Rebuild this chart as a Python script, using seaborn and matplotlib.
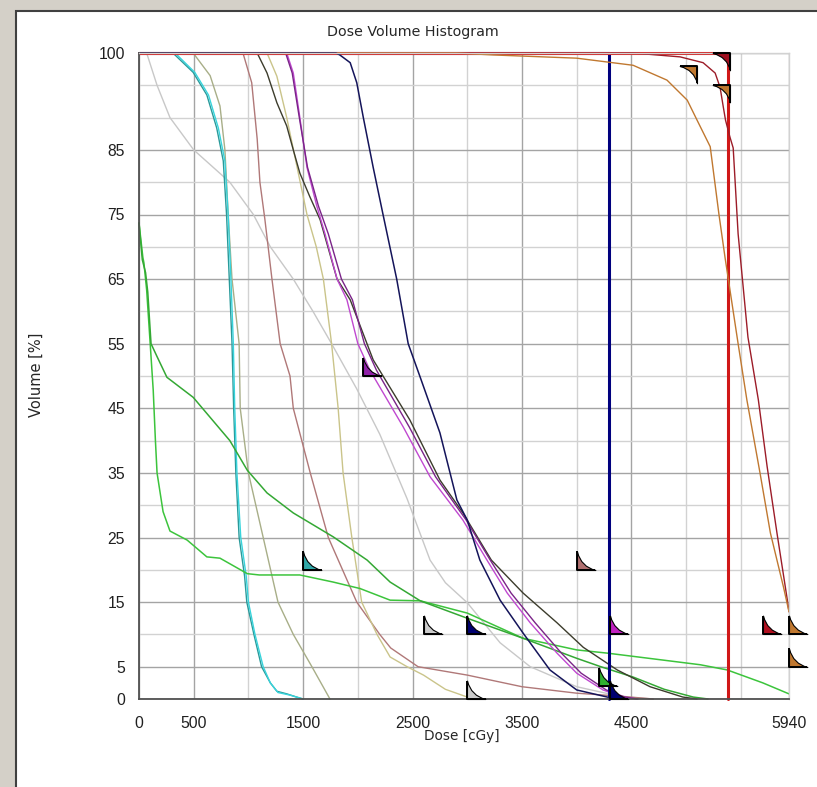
import matplotlib
matplotlib.use("Agg")
import matplotlib.pyplot as plt
from matplotlib.path import Path
from matplotlib.markers import MarkerStyle
from matplotlib.patches import Rectangle
import seaborn as sns

# dose in cGy, volume in %

teal_dose = [0, 310, 495, 620, 710, 770, 800, 825, 850, 865, 885, 915, 965, 985, 1050, 1120, 1200, 1260, 1350, 1440, 1500]
teal_vol = [100, 100, 97, 93.5, 88.4, 83.3, 75, 65, 55, 45, 35, 25, 19, 15, 10, 5, 2.5, 1.2, 0.8, 0.3, 0]

cyan_dose = [0, 330, 510, 635, 725, 785, 815, 840, 862, 875, 895, 930, 980, 1000, 1060, 1135, 1200, 1270, 1380, 1440, 1500]
cyan_vol = [100, 100, 97, 93.5, 88.4, 83.3, 75, 65, 55, 45, 35, 25, 19, 15, 10, 5, 2.5, 1, 0.6, 0.3, 0]

olive_gray_dose = [0, 495, 650, 740, 785, 815, 850, 915, 925, 1000, 1135, 1270, 1410, 1580, 1745]
olive_gray_vol = [100, 100, 96.5, 91.8, 85, 75, 65, 55, 45, 35, 25, 15, 10, 5, 0]

gray_dose = [0, 70, 165, 283, 500, 830, 1045, 1200, 1410, 1590, 1760, 1990, 2200, 2450, 2660, 2800, 3000, 3300, 3575, 4000, 4425, 4700]
gray_vol = [100, 100, 95, 90, 85, 80, 75, 70, 65, 60, 55, 48, 41, 31, 21.5, 18, 14.9, 8.7, 5, 1.9, 0.3, 0]

rosy_dose = [0, 950, 1030, 1080, 1105, 1150, 1215, 1290, 1380, 1410, 1565, 1730, 1860, 1990, 2200, 2300, 2550, 3000, 3500, 4000, 4425, 4700]
rosy_vol = [100, 100, 95.4, 86.7, 80, 74.3, 65, 55, 50, 45, 35, 25, 20, 15, 10, 7.9, 5, 3.7, 1.9, 0.9, 0.4, 0]

khaki_dose = [0, 1170, 1260, 1350, 1445, 1535, 1620, 1685, 1760, 1820, 1865, 1945, 2035, 2175, 2295, 2450, 2600, 2800, 3000, 3100]
khaki_vol = [100, 100, 96.4, 90, 82.3, 75, 70, 65, 55, 45, 35, 25, 15, 10, 6.5, 5, 3.7, 1.5, 0.3, 0]

dark_dose = [0, 1080, 1170, 1260, 1350, 1410, 1470, 1560, 1655, 1810, 1930, 2140, 2475, 2750, 2960, 3220, 3510, 3820, 4060, 4370, 4670, 4970, 5100]
dark_vol = [100, 100, 96.9, 92.3, 88.7, 85, 81.4, 77.8, 74.2, 65, 61.8, 52.5, 43.2, 33.9, 28.8, 21.5, 16.4, 11.8, 8, 4.5, 1.9, 0.3, 0]

magenta_dose = [0, 1350, 1410, 1470, 1535, 1625, 1700, 1810, 1900, 2000, 2110, 2415, 2660, 2960, 3180, 3365, 3575, 3820, 4000, 4240, 4425, 4550]
magenta_vol = [100, 100, 96.9, 90, 82.3, 76.3, 72, 65, 61.8, 55, 50.9, 42.1, 34.4, 27.7, 21.5, 16.4, 11.8, 7.1, 4, 1.4, 0.3, 0]

purple_dose = [0, 1340, 1400, 1465, 1540, 1640, 1730, 1850, 1950, 2060, 2170, 2470, 2710, 2990, 3210, 3400, 3620, 3860, 4040, 4270, 4440, 4560]
purple_vol = [100, 100, 96.9, 90, 82.3, 76.3, 72, 65, 61.8, 55, 50.9, 42.1, 34.4, 27.7, 21.5, 16.4, 11.8, 7.1, 4, 1.4, 0.3, 0]

navy_dose = [0, 1800, 1835, 1930, 1990, 2050, 2140, 2230, 2355, 2460, 2570, 2750, 2905, 3000, 3115, 3300, 3510, 3755, 4000, 4280, 4400]
navy_vol = [100, 100, 99.7, 98.5, 95.4, 90, 82.3, 75, 65, 55, 49.8, 41.2, 30.8, 27.7, 21.5, 15.3, 10.2, 4.5, 1.4, 0.3, 0]

step_navy_dose = [0, 4296, 4296]
step_navy_vol = [100, 100, 0]

step_red_dose = [0, 5384, 5384]
step_red_vol = [100, 100, 0]

maroon_dose = [0, 4515, 4945, 5155, 5265, 5310, 5340, 5360, 5400, 5430, 5475, 5565, 5660, 5740, 5830, 5925, 5940]
maroon_vol = [100, 100, 99.4, 98.5, 96.9, 94.7, 91.6, 89.6, 87, 85.3, 72, 56, 46.3, 36, 25.7, 15.3, 13.5]

sienna_dose = [0, 2900, 3235, 4000, 4515, 4825, 5010, 5100, 5220, 5300, 5355, 5475, 5555, 5675, 5770, 5890, 5940]
sienna_vol = [100, 100, 99.7, 99.2, 98.1, 95.8, 92.7, 89.6, 85.5, 75, 68.4, 55, 46.3, 35, 25.7, 17.3, 13.5]

green_a_dose = [0, 30, 60, 80, 110, 165, 255, 495, 650, 830, 990, 1170, 1410, 1775, 2085, 2295, 2570, 3000, 3510, 4000, 4220, 4515, 4800, 5065, 5200]
green_a_vol = [73.7, 68, 66, 63, 55, 53, 49.8, 46.7, 43.6, 40, 35.4, 31.9, 28.8, 25.1, 21.5, 18.1, 15.2, 12.5, 9.4, 6.3, 5, 3.4, 1.5, 0.3, 0]

green_b_dose = [0, 35, 45, 70, 100, 130, 150, 165, 220, 283, 440, 620, 740, 990, 1100, 1470, 1775, 2020, 2295, 2570, 3000, 3510, 4000, 4280, 4800, 5130, 5375, 5700, 5925, 5940]
green_b_vol = [73.7, 68.4, 67.5, 63.3, 55.6, 47.8, 40, 35, 29, 26, 24.6, 22, 21.8, 19.4, 19.2, 19.2, 18.1, 17.1, 15.3, 15.2, 13.3, 9.4, 7.6, 7.1, 6, 5.3, 4.5, 2.5, 0.9, 0.8]

# constraint markers: lower limits (corner bottom-left) and upper limits (corner top-right)
low_dose = [2050, 1500, 2600, 3000, 3000, 4000, 4300, 4200, 4300, 5700, 5940, 5940]
low_vol = [50, 20, 10, 10, 0, 20, 10, 2, 0, 10, 10, 5]
low_colors = ['#9020a8', '#30a8a8', '#cccccc', '#000070', '#cccccc', '#b07070',
              '#c020c0', '#30b030', '#000070', '#b01020', '#c07830', '#c07830']
up_dose = [5400, 5100, 5400]
up_vol = [100, 98, 95]
up_colors = ['#a01020', '#c07830', '#c07830']

curves = [
    (gray_dose, gray_vol, '#c8c8c8', 1.0),
    (olive_gray_dose, olive_gray_vol, '#a8ae88', 1.0),
    (teal_dose, teal_vol, '#2a9a9a', 1.0),
    (cyan_dose, cyan_vol, '#38d4dc', 1.0),
    (rosy_dose, rosy_vol, '#b07878', 1.0),
    (khaki_dose, khaki_vol, '#cac48a', 1.0),
    (green_b_dose, green_b_vol, '#3cc43c', 1.1),
    (green_a_dose, green_a_vol, '#34a834', 1.1),
    (dark_dose, dark_vol, '#3c3c2c', 1.0),
    (magenta_dose, magenta_vol, '#c048d0', 1.0),
    (purple_dose, purple_vol, '#7a2488', 1.0),
    (step_navy_dose, step_navy_vol, '#00007e', 2.2),
    (step_red_dose, step_red_vol, '#d01818', 2.2),
    (maroon_dose, maroon_vol, '#9c1c28', 1.0),
    (sienna_dose, sienna_vol, '#c07830', 1.0),
    (navy_dose, navy_vol, '#14145a', 1.1),
]

sns.set_style("white")
plt.rcParams['font.family'] = ['DejaVu Sans']

fig = plt.figure(figsize=(8.17, 7.87), dpi=100)
fig.patch.set_facecolor('#d4d0c8')
# white window panel behind the chart
fig.patches.append(Rectangle((16 / 817, -0.01), 1.0, 1.01 - 11 / 787, transform=fig.transFigure,
                             facecolor='white', edgecolor='#404040', lw=1.5, zorder=-10))

ax = fig.add_axes([139 / 817, 1 - 699 / 787, 650 / 817, 646 / 787])
ax.set_facecolor('white')

for d, v, c, lw in curves:
    sns.lineplot(x=d, y=v, color=c, lw=lw, sort=False, estimator=None, ax=ax, clip_on=False)

# shark-fin markers: filled body with thin outline, plus heavier L-shaped edge
low_fill = Path([(0, 0), (0, 1), (0.2, 0.2), (1, 0), (0, 0)],
                [Path.MOVETO, Path.LINETO, Path.CURVE3, Path.CURVE3, Path.CLOSEPOLY])
low_edge = Path([(0, 1), (0, 0), (1, 0)], [Path.MOVETO, Path.LINETO, Path.LINETO])
up_fill = Path([(0, 0), (-1, 0), (-0.2, -0.2), (0, -1), (0, 0)],
               [Path.MOVETO, Path.LINETO, Path.CURVE3, Path.CURVE3, Path.CLOSEPOLY])
up_edge = Path([(-1, 0), (0, 0), (0, -1)], [Path.MOVETO, Path.LINETO, Path.LINETO])

for d, v, c in zip(low_dose, low_vol, low_colors):
    sns.scatterplot(x=[d], y=[v], marker=MarkerStyle(low_fill), s=700, color=c,
                    edgecolor='black', linewidth=0.8, ax=ax, clip_on=False, zorder=5)
    ax.scatter([d], [v], marker=MarkerStyle(low_edge), s=700, facecolors='none',
               edgecolors='black', linewidths=1.4, clip_on=False, zorder=6)
for d, v, c in zip(up_dose, up_vol, up_colors):
    sns.scatterplot(x=[d], y=[v], marker=MarkerStyle(up_fill), s=620, color=c,
                    edgecolor='black', linewidth=0.8, ax=ax, clip_on=False, zorder=5)
    ax.scatter([d], [v], marker=MarkerStyle(up_edge), s=620, facecolors='none',
               edgecolors='black', linewidths=1.4, clip_on=False, zorder=6)

ax.set_xlim(0, 5940)
ax.set_ylim(0, 100)
ax.set_xticks([0, 500, 1500, 2500, 3500, 4500, 5940])
ax.set_xticks([1000, 2000, 3000, 4000, 5000, 5500], minor=True)
ax.set_yticks([0, 5, 15, 25, 35, 45, 55, 65, 75, 85, 100])
ax.set_yticks([10, 20, 30, 40, 50, 60, 70, 80, 90, 95], minor=True)
ax.grid(which='major', color='#a4a4a4', lw=1.0)
ax.grid(which='minor', color='#d2d2d2', lw=1.0)
ax.set_axisbelow(True)
ax.tick_params(which='major', length=7, width=1, color='#909090', direction='out')
ax.tick_params(which='minor', length=5, width=1, color='#c0c0c0', direction='out')
ax.tick_params(axis='y', pad=3)
ax.tick_params(axis='x', pad=5)
for lab in ax.get_xticklabels() + ax.get_yticklabels():
    lab.set_family('Liberation Sans')
    lab.set_fontsize(11.3)
    lab.set_color('#202020')
ax.set_xlabel('')
ax.set_ylabel('')

for side in ['left', 'bottom']:
    ax.spines[side].set_color('#505050')
    ax.spines[side].set_linewidth(1.3)
for side in ['top', 'right']:
    ax.spines[side].set_color('#d2d2d2')
    ax.spines[side].set_linewidth(1.0)

fig.text(413 / 817, 1 - 32 / 787, 'Dose Volume Histogram', ha='center', va='center', fontsize=10.3)
fig.text(462 / 817, 1 - 736 / 787, 'Dose [cGy]', ha='center', va='center', fontsize=9.8)
fig.text(36 / 817, 1 - 375 / 787, 'Volume [%]', rotation=90, ha='center', va='center', fontsize=10.5)

fig.savefig('out.png', dpi=100, facecolor=fig.get_facecolor())
